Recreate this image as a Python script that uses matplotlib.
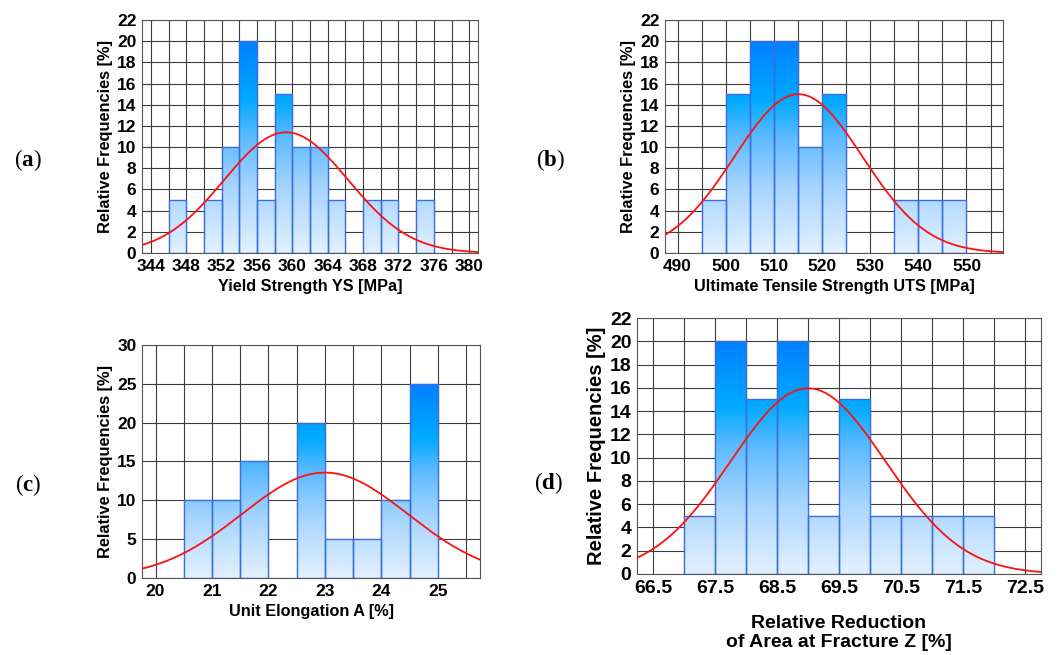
import numpy as np
import matplotlib
matplotlib.use('Agg')
import matplotlib.pyplot as plt
from matplotlib.colors import LinearSegmentedColormap

plt.rcParams['font.family'] = ['Liberation Sans', 'DejaVu Sans']
plt.rcParams['font.weight'] = 'bold'
plt.rcParams['axes.labelweight'] = 'bold'
plt.rcParams['mathtext.fontset'] = 'custom'
plt.rcParams['mathtext.rm'] = 'Liberation Serif'
plt.rcParams['mathtext.bf'] = 'Liberation Serif:bold'

# (a) yield strength, bins 2 MPa wide
ys_left = [346, 348, 350, 352, 354, 356, 358, 360, 362, 364, 366, 368, 370, 372, 374]
ys_freq = [5, 0, 5, 10, 20, 5, 15, 10, 10, 5, 0, 5, 5, 0, 5]
ys_width = 2
ys_fit = (359.3, 7.0)  # mean, sd of the normal curve
ys_xticks = [344, 348, 352, 356, 360, 364, 368, 372, 376, 380]

# (b) ultimate tensile strength, bins 5 MPa wide
uts_left = [495, 500, 505, 510, 515, 520, 525, 530, 535, 540, 545]
uts_freq = [5, 15, 20, 20, 10, 15, 0, 0, 5, 5, 5]
uts_width = 5
uts_fit = (515.1, 13.3)
uts_xticks = [490, 500, 510, 520, 530, 540, 550]

# (c) unit elongation, bins 0.5 % wide
el_left = [20.5, 21, 21.5, 22, 22.5, 23, 23.5, 24, 24.5]
el_freq = [10, 10, 15, 0, 20, 5, 5, 10, 25]
el_width = 0.5
el_fit = (23.0, 1.47)
el_xticks = [20, 21, 22, 23, 24, 25]

# (d) reduction of area, bins 0.5 % wide
ra_left = [67, 67.5, 68, 68.5, 69, 69.5, 70, 70.5, 71, 71.5]
ra_freq = [5, 20, 15, 20, 5, 15, 5, 5, 5, 5]
ra_width = 0.5
ra_fit = (69.0, 1.25)
ra_xticks = [66.5, 67.5, 68.5, 69.5, 70.5, 71.5, 72.5]

cmap = LinearSegmentedColormap.from_list('bars', [
    (0.0, '#e2f1ff'), (0.3, '#a9d5ff'), (0.55, '#5cbaff'),
    (0.72, '#00aaff'), (1.0, '#0080ff')])

fig = plt.figure(figsize=(10.59, 6.55), dpi=100)


def panel(rect, left, freq, width, fit, xlim, ylim, xticks, xgrid, yticks,
          xlabel, tick_fs, xlabel_fs, ylabel_fs, xpad, letter, letter_xy):
    ax = fig.add_axes(rect)
    top = max(freq)
    for l, f in zip(left, freq):
        if f == 0:
            continue
        bar = ax.bar(l, f, width=width, align='edge', facecolor='none',
                     edgecolor='#3a6ee0', linewidth=1.0, zorder=3)[0]
        im = ax.imshow(np.linspace(0, 1, 256).reshape(-1, 1), cmap=cmap,
                       origin='lower', aspect='auto',
                       extent=[l, l + width, 0, top], zorder=2)
        im.set_clip_path(bar)
    xs = np.linspace(xlim[0], xlim[1], 400)
    mu, sd = fit
    ys = 100 * width * np.exp(-0.5 * ((xs - mu) / sd) ** 2) / (sd * np.sqrt(2 * np.pi))
    ax.plot(xs, ys, color='#ff1010', linewidth=1.3, zorder=4)

    ax.set_xlim(xlim)
    ax.set_ylim(ylim)
    ax.set_xticks(xticks)
    ax.set_xticks(xgrid, minor=True)
    ax.set_yticks(yticks)
    ax.set_xticklabels([('%g' % t) if t % 1 else '%d' % t for t in xticks])
    ax.grid(which='both', color='#3c3c3c', linewidth=0.8, zorder=0)
    ax.set_axisbelow(True)
    ax.tick_params(which='both', length=0, labelsize=tick_fs, pad=4)
    for s in ax.spines.values():
        s.set_color('#555555')
        s.set_linewidth(0.8)
    ax.set_ylabel('Relative Frequencies [%]', fontsize=ylabel_fs,
                  fontweight='bold', labelpad=3)
    ax.set_xlabel(xlabel, fontsize=xlabel_fs, fontweight='bold', labelpad=xpad,
                  linespacing=1.2)
    fig.text(letter_xy[0], letter_xy[1], r'($\mathbf{%s}$)' % letter,
             family='Liberation Serif', fontweight='normal', fontsize=16.5,
             ha='center', va='center')
    return ax


panel([0.1341, 0.6137, 0.3173, 0.3557], ys_left, ys_freq, ys_width, ys_fit,
      (343.0, 381.0), (0, 22), ys_xticks, np.arange(344, 381, 2),
      np.arange(0, 23, 2), 'Yield Strength YS [MPa]', 12.5, 11.7, 11.8, 4,
      'a', (28 / 1059, 1 - 160 / 655))

panel([0.6280, 0.6137, 0.3192, 0.3557], uts_left, uts_freq, uts_width, uts_fit,
      (487.4, 557.6), (0, 22), uts_xticks, np.arange(490, 557, 5),
      np.arange(0, 23, 2), 'Ultimate Tensile Strength UTS [MPa]', 12.5, 11.7, 11.8, 4,
      'b', (550 / 1059, 1 - 160 / 655))

panel([0.1341, 0.1176, 0.3192, 0.3557], el_left, el_freq, el_width, el_fit,
      (19.76, 25.75), (0, 30), el_xticks, np.arange(20, 25.8, 0.5),
      np.arange(0, 31, 5), 'Unit Elongation A [%]', 12.5, 11.7, 11.8, 4,
      'c', (28 / 1059, 1 - 485 / 655))

panel([0.6015, 0.1237, 0.3815, 0.3908], ra_left, ra_freq, ra_width, ra_fit,
      (66.24, 72.76), (0, 22), ra_xticks, np.arange(66.5, 72.6, 0.5),
      np.arange(0, 23, 2), 'Relative Reduction\nof Area at Fracture Z [%]', 14, 14, 14.5, 13,
      'd', (548 / 1059, 1 - 483 / 655))

fig.savefig('out.png', dpi=100)
